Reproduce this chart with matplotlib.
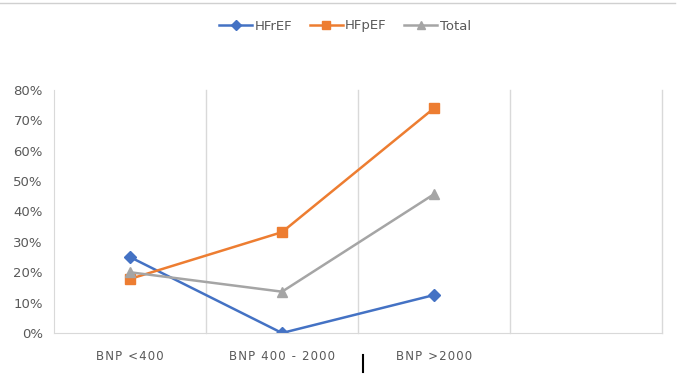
import matplotlib.pyplot as plt
from matplotlib.lines import Line2D
from matplotlib.ticker import PercentFormatter

# donnees
categories = ["BNP <400", "BNP 400 - 2000", "BNP >2000"]
hfref = [0.25, 0.0, 0.125]
hfpef = [0.178, 0.332, 0.74]
total = [0.20, 0.136, 0.457]

n_slots = 4  # excel garde une 4e categorie vide
gris_txt = "#595959"


def espacer(txt):
    # imite l'espacement des lettres d'excel
    return "\u200a".join(txt)


fig = plt.figure(figsize=(6.9, 3.76), dpi=100)
ax = fig.add_axes([54 / 690, 1 - 333 / 376, 608 / 690, 243 / 376])

x = list(range(len(categories)))
ax.plot(x, hfref, color="#4472C4", lw=1.8, marker="D", ms=6.5, label="HFrEF")
ax.plot(x, hfpef, color="#ED7D31", lw=1.8, marker="s", ms=7, label="HFpEF")
ax.plot(x, total, color="#A5A5A5", lw=1.8, marker="^", ms=7.5, label="Total")

ax.set_xlim(-0.5, n_slots - 0.5)
ax.set_ylim(0, 0.8)
ax.set_yticks([i / 10 for i in range(9)])
ax.yaxis.set_major_formatter(PercentFormatter(1.0, decimals=0))
ax.set_xticks(x)
ax.set_xticklabels([espacer(c) for c in categories])

# separations verticales entre categories
for b in range(1, n_slots + 1):
    ax.axvline(b - 0.5, color="#D9D9D9", lw=1, zorder=0, clip_on=False)

for s in ["top", "right"]:
    ax.spines[s].set_visible(False)
ax.spines["left"].set_color("#D9D9D9")
ax.spines["bottom"].set_color("#D9D9D9")
ax.tick_params(length=0, colors=gris_txt, labelsize=9.5)
ax.tick_params(axis="x", pad=12, labelsize=8.5)
ax.tick_params(axis="y", pad=8)

leg = fig.legend(loc="center", bbox_to_anchor=(0.5, 1 - 26 / 376), ncol=3,
                 frameon=False, fontsize=9.5, handlelength=2.5,
                 columnspacing=1.3, handletextpad=0.2, markerscale=0.8)
for t in leg.get_texts():
    t.set_color(gris_txt)

# bordure du haut et curseur
fig.add_artist(Line2D([0, 675 / 690], [1 - 3 / 376, 1 - 3 / 376],
                      color="#D0D0D0", lw=1))
fig.add_artist(Line2D([363 / 690, 363 / 690], [1 - 355 / 376, 1 - 372 / 376],
                      color="black", lw=1.5))

fig.savefig("out.png", dpi=100)
